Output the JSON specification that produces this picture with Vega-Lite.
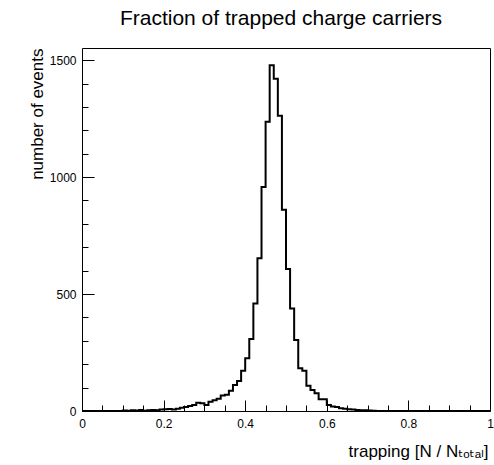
{
  "$schema": "https://vega.github.io/schema/vega-lite/v6.json",
  "width": 408,
  "height": 363,
  "autosize": {"type": "none"},
  "padding": {"left": 82, "top": 48, "right": 4, "bottom": 54},
  "background": "white",
  "title": {
    "text": "Fraction of trapped charge carriers",
    "font": "Liberation Sans",
    "fontSize": 21,
    "fontWeight": "normal",
    "color": "black",
    "anchor": "middle",
    "frame": "group",
    "dx": -5,
    "offset": 2,
    "baseline": "alphabetic"
  },
  "data": {
    "values": [
      {"trapping": 0.00, "events": 0}, {"trapping": 0.01, "events": 0}, {"trapping": 0.02, "events": 0}, {"trapping": 0.03, "events": 0}, {"trapping": 0.04, "events": 0},
      {"trapping": 0.05, "events": 0}, {"trapping": 0.06, "events": 0}, {"trapping": 0.07, "events": 0}, {"trapping": 0.08, "events": 0}, {"trapping": 0.09, "events": 0},
      {"trapping": 0.10, "events": 2}, {"trapping": 0.11, "events": 1}, {"trapping": 0.12, "events": 3}, {"trapping": 0.13, "events": 2}, {"trapping": 0.14, "events": 4},
      {"trapping": 0.15, "events": 1}, {"trapping": 0.16, "events": 3}, {"trapping": 0.17, "events": 4}, {"trapping": 0.18, "events": 3}, {"trapping": 0.19, "events": 6},
      {"trapping": 0.20, "events": 7}, {"trapping": 0.21, "events": 9}, {"trapping": 0.22, "events": 6}, {"trapping": 0.23, "events": 10}, {"trapping": 0.24, "events": 14},
      {"trapping": 0.25, "events": 17}, {"trapping": 0.26, "events": 21}, {"trapping": 0.27, "events": 26}, {"trapping": 0.28, "events": 35}, {"trapping": 0.29, "events": 33},
      {"trapping": 0.30, "events": 26}, {"trapping": 0.31, "events": 40}, {"trapping": 0.32, "events": 46}, {"trapping": 0.33, "events": 52}, {"trapping": 0.34, "events": 66},
      {"trapping": 0.35, "events": 69}, {"trapping": 0.36, "events": 87}, {"trapping": 0.37, "events": 111}, {"trapping": 0.38, "events": 128}, {"trapping": 0.39, "events": 172},
      {"trapping": 0.40, "events": 225}, {"trapping": 0.41, "events": 308}, {"trapping": 0.42, "events": 460}, {"trapping": 0.43, "events": 653}, {"trapping": 0.44, "events": 958},
      {"trapping": 0.45, "events": 1237}, {"trapping": 0.46, "events": 1478}, {"trapping": 0.47, "events": 1420}, {"trapping": 0.48, "events": 1262}, {"trapping": 0.49, "events": 860},
      {"trapping": 0.50, "events": 607}, {"trapping": 0.51, "events": 438}, {"trapping": 0.52, "events": 304}, {"trapping": 0.53, "events": 183}, {"trapping": 0.54, "events": 172},
      {"trapping": 0.55, "events": 108}, {"trapping": 0.56, "events": 90}, {"trapping": 0.57, "events": 76}, {"trapping": 0.58, "events": 50}, {"trapping": 0.59, "events": 50},
      {"trapping": 0.60, "events": 26}, {"trapping": 0.61, "events": 19}, {"trapping": 0.62, "events": 17}, {"trapping": 0.63, "events": 12}, {"trapping": 0.64, "events": 10},
      {"trapping": 0.65, "events": 7}, {"trapping": 0.66, "events": 6}, {"trapping": 0.67, "events": 4}, {"trapping": 0.68, "events": 3}, {"trapping": 0.69, "events": 3},
      {"trapping": 0.70, "events": 2}, {"trapping": 0.71, "events": 1}, {"trapping": 0.72, "events": 0}, {"trapping": 0.73, "events": 0}, {"trapping": 0.74, "events": 0},
      {"trapping": 0.75, "events": 0}, {"trapping": 0.76, "events": 0}, {"trapping": 0.77, "events": 0}, {"trapping": 0.78, "events": 0}, {"trapping": 0.79, "events": 0},
      {"trapping": 0.80, "events": 0}, {"trapping": 0.81, "events": 0}, {"trapping": 0.82, "events": 0}, {"trapping": 0.83, "events": 0}, {"trapping": 0.84, "events": 0},
      {"trapping": 0.85, "events": 0}, {"trapping": 0.86, "events": 0}, {"trapping": 0.87, "events": 0}, {"trapping": 0.88, "events": 0}, {"trapping": 0.89, "events": 0},
      {"trapping": 0.90, "events": 0}, {"trapping": 0.91, "events": 0}, {"trapping": 0.92, "events": 0}, {"trapping": 0.93, "events": 0}, {"trapping": 0.94, "events": 0},
      {"trapping": 0.95, "events": 0}, {"trapping": 0.96, "events": 0}, {"trapping": 0.97, "events": 0}, {"trapping": 0.98, "events": 0}, {"trapping": 0.99, "events": 0},
      {"trapping": 1.00, "events": 0}
    ]
  },
  "config": {
    "view": {"stroke": "black", "strokeWidth": 1},
    "axis": {
      "domain": false,
      "grid": false,
      "labelFont": "Liberation Sans",
      "labelFontSize": 12,
      "labelColor": "black",
      "tickColor": "black",
      "tickWidth": 1,
      "titleFont": "Liberation Sans, DejaVu Sans, sans-serif",
      "titleFontSize": 17,
      "titleFontWeight": "normal",
      "titleColor": "black"
    }
  },
  "layer": [
    {
      "mark": {"type": "line", "interpolate": "step-after", "color": "black", "strokeWidth": 2},
      "encoding": {
        "x": {
          "field": "trapping", "type": "quantitative",
          "scale": {"domain": [0, 1], "nice": false, "zero": false},
          "axis": {
            "orient": "bottom", "values": [0, 0.2, 0.4, 0.6, 0.8, 1], "ticks": false,
            "labelPadding": 7, "labelFlush": false, "labelExpr": "'' + datum.value",
            "title": "trapping [N / Nₜₒₜₐₗ]", "titleAnchor": "end", "titleAlign": "right",
            "titleBaseline": "alphabetic", "titleX": 406, "titleY": 45
          }
        },
        "y": {
          "field": "events", "type": "quantitative",
          "scale": {"domain": [0, 1552], "nice": false},
          "axis": {
            "orient": "left", "values": [0, 500, 1000, 1500], "ticks": false,
            "labelPadding": 6, "format": "d",
            "title": "number of events", "titleAnchor": "end", "titleAngle": -90,
            "titleAlign": "right", "titleBaseline": "alphabetic", "titleX": -40, "titleY": 0
          }
        }
      }
    },
    {
      "mark": {"type": "point", "opacity": 0},
      "encoding": {
        "x": {
          "field": "trapping", "type": "quantitative",
          "scale": {"domain": [0, 1], "nice": false, "zero": false},
          "axis": {"orient": "bottom", "values": [0, 0.2, 0.4, 0.6, 0.8, 1], "tickSize": -11, "labels": false, "title": null}
        },
        "y": {
          "field": "events", "type": "quantitative",
          "scale": {"domain": [0, 1552], "nice": false},
          "axis": {"orient": "left", "values": [0, 500, 1000, 1500], "tickSize": -12, "labels": false, "title": null}
        }
      }
    },
    {
      "mark": {"type": "point", "opacity": 0},
      "encoding": {
        "x": {
          "field": "trapping", "type": "quantitative",
          "scale": {"domain": [0, 1], "nice": false, "zero": false},
          "axis": {"orient": "bottom", "values": [0.05, 0.1, 0.15, 0.25, 0.3, 0.35, 0.45, 0.5, 0.55, 0.65, 0.7, 0.75, 0.85, 0.9, 0.95], "tickSize": -6, "labels": false, "title": null}
        },
        "y": {
          "field": "events", "type": "quantitative",
          "scale": {"domain": [0, 1552], "nice": false},
          "axis": {"orient": "left", "values": [100, 200, 300, 400, 600, 700, 800, 900, 1100, 1200, 1300, 1400], "tickSize": -6, "labels": false, "title": null}
        }
      }
    }
  ],
  "resolve": {"axis": {"x": "independent", "y": "independent"}}
}
